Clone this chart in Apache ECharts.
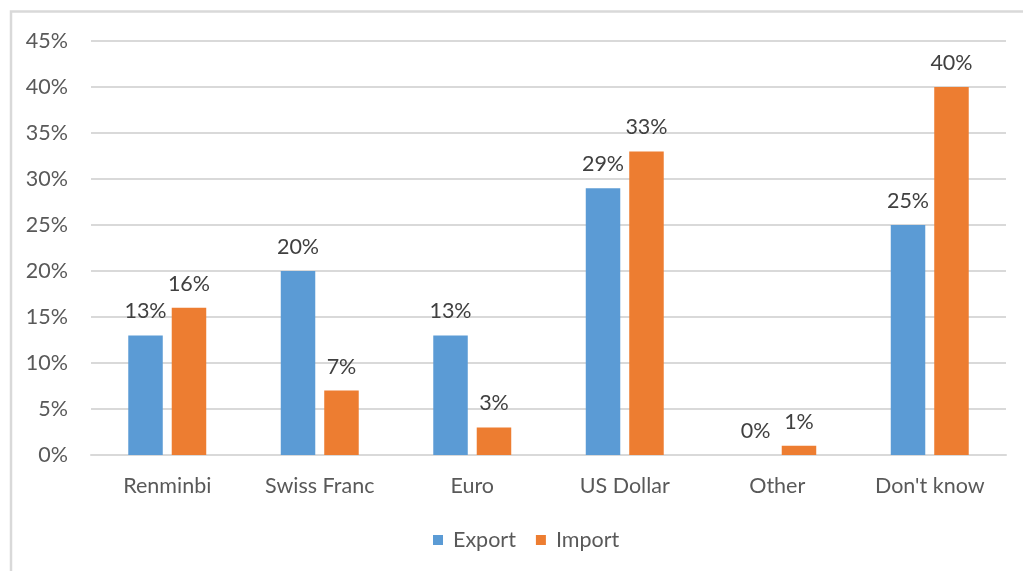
<!DOCTYPE html>
<html>
<head>
<meta charset="utf-8">
<script src="https://cdn.jsdelivr.net/npm/echarts@6/dist/echarts.min.js"></script>
<style>
  html, body { margin: 0; padding: 0; background: #fff; }
  #myChart { width: 1023px; height: 571px; }
</style>
</head>
<body>
<div id="myChart"></div>
<script>
var categories = ['Renminbi', 'Swiss Franc', 'Euro', 'US Dollar', 'Other', "Don't know"];
var exportVals = [13, 20, 13, 29, 0, 25];
var importVals = [16, 7, 3, 33, 1, 40];

var font = 'Lato, "Open Sans", sans-serif';
var labelStyle = {
  show: true,
  position: 'top',
  distance: 13,
  formatter: '{c}%',
  color: '#404040',
  fontSize: 21.5,
  fontFamily: font
};

var myChart = echarts.init(document.getElementById('myChart'));
myChart.setOption({
  animation: false,
  textStyle: { fontFamily: font },
  graphic: [{
    type: 'rect',
    shape: { x: 11, y: 11.5, width: 1100, height: 700 },
    style: { fill: 'none', stroke: '#d9d9d9', lineWidth: 2.5 },
    silent: true
  }],
  grid: { left: 91, right: 17, top: 41, bottom: 116 },
  legend: {
    bottom: 15,
    left: 428,
    itemWidth: 10,
    itemHeight: 10,
    itemGap: 20,
    icon: 'rect',
    textStyle: { color: '#595959', fontSize: 21.5, fontFamily: font, padding: [0, 0, 0, 5] },
    data: ['Export', 'Import']
  },
  xAxis: {
    type: 'category',
    data: categories,
    axisTick: { show: false },
    axisLine: { lineStyle: { color: '#d9d9d9', width: 2 } },
    axisLabel: { color: '#595959', fontSize: 21.5, margin: 20, fontFamily: font }
  },
  yAxis: {
    type: 'value',
    min: 0,
    max: 45,
    interval: 5,
    axisLine: { show: false },
    axisTick: { show: false },
    splitLine: { lineStyle: { color: '#d9d9d9', width: 2 } },
    axisLabel: { color: '#595959', fontSize: 21.5, margin: 23, formatter: '{value}%', fontFamily: font }
  },
  series: [{
    name: 'Export',
    type: 'bar',
    data: exportVals,
    barWidth: 34.5,
    barGap: '26%',
    itemStyle: { color: '#5b9bd5' },
    label: labelStyle
  }, {
    name: 'Import',
    type: 'bar',
    data: importVals,
    barWidth: 34.5,
    itemStyle: { color: '#ed7d31' },
    label: labelStyle
  }]
});
</script>
</body>
</html>
